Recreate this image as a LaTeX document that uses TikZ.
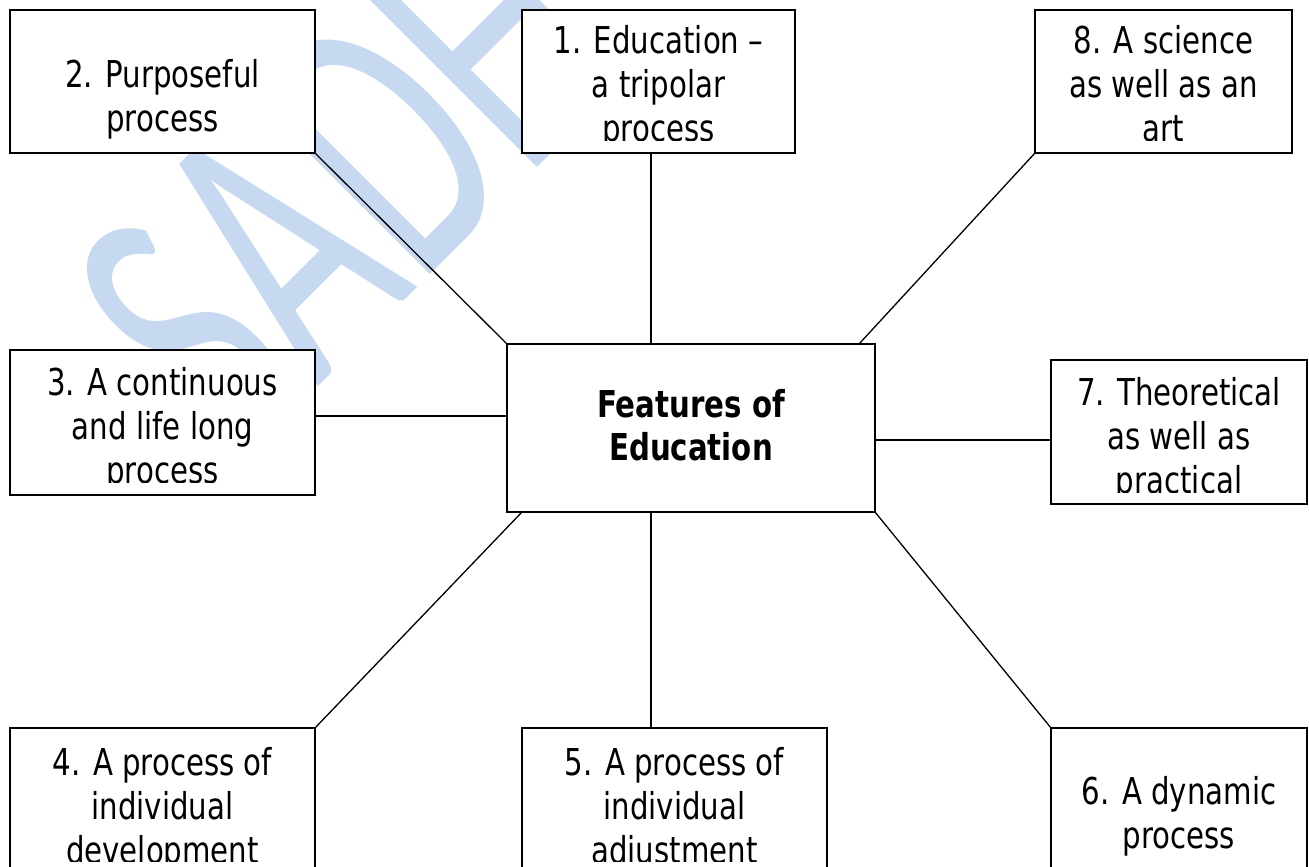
\documentclass[tikz,border=0pt]{standalone}
\usepackage{fontspec}
\setmainfont{DejaVu Sans}[FakeStretch=0.79]
\newfontfamily\wmfont{Carlito}[FakeStretch=0.62]
\definecolor{wmblue}{RGB}{198,217,240}

\begin{document}
\begin{tikzpicture}[x=1pt,y=1pt,
  box/.style={draw=black, line width=1.6pt, fill=white, inner sep=0pt, outer sep=0pt},
  link/.style={draw=black, line width=1.3pt},
  % multi-line labels: the base anchor sits on the last line
  label/.style={font=\fontsize{37}{44}\selectfont, align=center, anchor=base, inner sep=0pt},
]
\clip (0,0) rectangle (1309,-867);
\fill[white] (0,0) rectangle (1309,-867);

% background watermark
\node[font=\wmfont\fontsize{398}{398}\selectfont, text=wmblue, rotate=45,
      anchor=base west, inner sep=0pt] (wm) at (238,-467) {SADH};

% boxes
\node[box, minimum width=305, minimum height=143] (b2) at (162.5,-81.5) {};
\node[box, minimum width=273, minimum height=143] (b1) at (658.5,-81.5) {};
\node[box, minimum width=257, minimum height=143] (b8) at (1163.5,-81.5) {};
\node[box, minimum width=305, minimum height=145] (b3) at (162.5,-422.5) {};
\node[box, minimum width=368, minimum height=168] (c)  at (691,-428) {};
\node[box, minimum width=256, minimum height=144] (b7) at (1179,-432) {};
\node[box, minimum width=305, minimum height=152] (b4) at (162.5,-804) {};
\node[box, minimum width=305, minimum height=152] (b5) at (674.5,-804) {};
\node[box, minimum width=256, minimum height=152] (b6) at (1179,-804) {};

% guide positions for the connectors
\coordinate (k1) at (651,0);
\coordinate (k8) at (859,0);
\coordinate (k4) at (522,0);
\coordinate (k3) at (0,-416);
\coordinate (k7) at (0,-440);

% connectors
\draw[link] (b2.south east) -- (c.north west);
\draw[link] (b1.south -| k1) -- (c.north -| k1);
\draw[link] (b8.south west) -- (c.north -| k8);
\draw[link] (b3.east |- k3) -- (c.west |- k3);
\draw[link] (c.east |- k7) -- (b7.west |- k7);
\draw[link] (c.south -| k4) -- (b4.north east);
\draw[link] (c.south -| k1) -- (b5.north -| k1);
\draw[link] (c.south east) -- (b6.north west);

% texts (placed by the baseline of their last line)
\node[label] (t2) at (162.5,-131) {2. Purposeful\\process};
\begin{scope}
  \clip (522,-10) rectangle (795,-140);
  \node[label] (t1) at (658.5,-141) {1. Education \textendash\\a tripolar\\process};
\end{scope}
\begin{scope}
  \clip (1035,-10) rectangle (1292,-140);
  \node[label] (t8) at (1163.5,-141) {8. A science\\as well as an\\art};
\end{scope}
\begin{scope}
  \clip (10,-350) rectangle (315,-482);
  \node[label] (t3) at (162.5,-483) {3. A continuous\\and life long\\process};
\end{scope}
\node[label, font=\fontsize{37}{43}\selectfont\bfseries] (tc) at (691,-460) {Features of\\Education};
\begin{scope}
  \clip (1051,-360) rectangle (1307,-492);
  \node[label] (t7) at (1179,-493) {7. Theoretical\\as well as\\practical};
\end{scope}
\begin{scope}
  \clip (10,-728) rectangle (315,-861);
  \node[label] (t4) at (162.5,-863) {4. A process of\\individual\\development};
\end{scope}
\begin{scope}
  \clip (522,-728) rectangle (827,-861);
  \node[label] (t5) at (674.5,-863) {5. A process of\\individual\\adjustment};
\end{scope}
\node[label] (t6) at (1179,-848) {6. A dynamic\\process};
\end{tikzpicture}
\end{document}
